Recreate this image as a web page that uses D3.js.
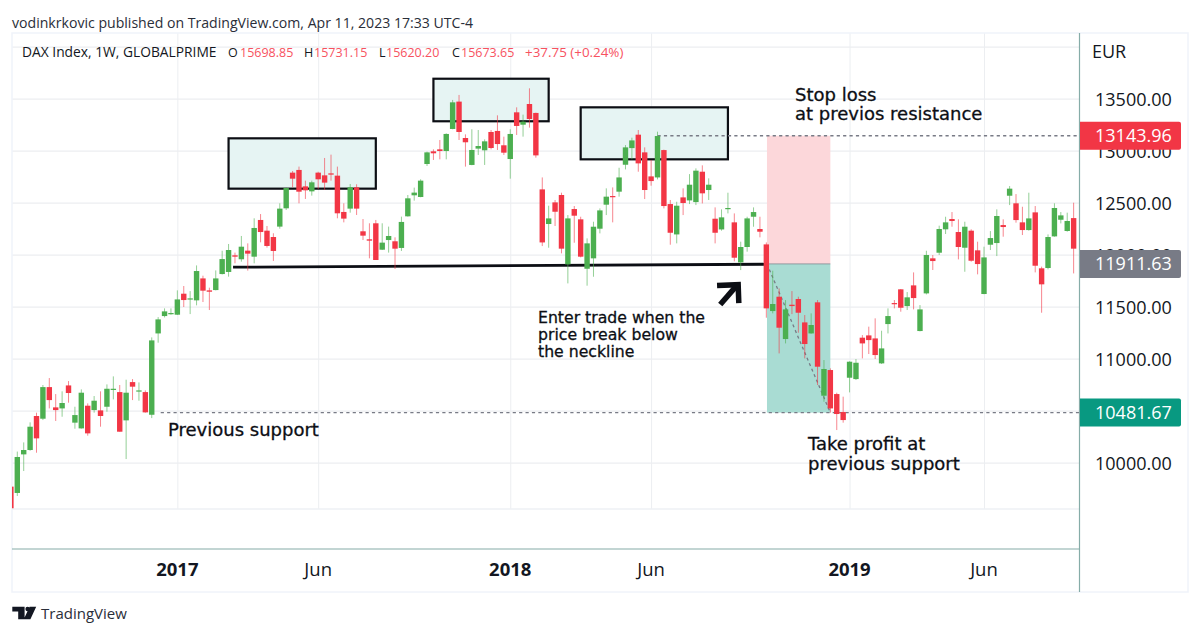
<!DOCTYPE html>
<html>
<head>
<meta charset="utf-8">
<script src="https://cdn.jsdelivr.net/npm/d3@7"></script>
<style>
  html, body { margin: 0; padding: 0; background: #fff; }
  text { font-family: "Open Sans", sans-serif; }
  .note { font-family: "DejaVu Sans", sans-serif; font-size: 18px; fill: #0c0e14; stroke: #0c0e14; stroke-width: 0.3px; }
</style>
</head>
<body>
<div id="chart"></div>
<script>
const WIDTH = 1200;
const HEIGHT = 635;

const GREEN = "#4caf50";
const RED = "#f23645";
const TEAL = "#089981";
const GREY = "#787b86";
const GRID = "#eceef1";
const AXIS = "#86aca8";

// weekly candles, [open, high, low, close], first one is cut off by the left edge
const candles = [
  [9770,9790,9560,9562],[9709,10107,9680,10055],[10080,10195,9920,10122],[10122,10388,10115,10346],
  [10449,10481,10096,10234],[10423,10747,10410,10727],[10727,10814,10522,10602],[10532,10660,10401,10506],
  [10522,10686,10442,10574],[10743,10785,10577,10670],[10385,10538,10327,10458],[10330,10705,10327,10673],
  [10548,10570,10260,10282],[10506,10641,10481,10596],[10503,10686,10346,10449],[10538,10753,10490,10711],
  [10702,10830,10609,10711],[10679,10747,10298,10298],[10407,10798,10035,10673],[10775,10804,10602,10731],
  [10686,10772,10596,10695],[10679,10695,10481,10484],[10461,11205,10429,11176],[11243,11400,11154,11378],
  [11410,11484,11397,11455],[11429,11484,11423,11439],[11423,11657,11420,11570],[11625,11699,11497,11564],
  [11570,11650,11429,11580],[11561,11897,11513,11843],[11772,11798,11545,11654],[11657,11683,11468,11644],
  [11660,11849,11657,11772],[11814,12038,11810,11958],[11834,12103,11789,12045],[11994,12020,11917,11981],
  [11956,12180,11933,12077],[12039,12109,11847,12010],[11981,12350,11917,12257],[12334,12391,12119,12218],
  [12231,12276,12068,12084],[12170,12206,11940,12036],[12270,12494,12250,12443],[12446,12648,12430,12641],
  [12789,12805,12648,12731],[12815,12847,12494,12606],[12657,12712,12536,12619],[12609,12712,12568,12696],
  [12789,12798,12632,12725],[12763,12930,12622,12693],[12782,12962,12712,12770],[12760,12847,12350,12398],
  [12411,12494,12311,12347],[12443,12680,12404,12648],[12648,12677,12382,12443],[12225,12343,12141,12183],
  [12148,12302,11965,12135],[12302,12334,11949,11949],[12048,12302,12045,12116],[12141,12270,12020,12180],
  [12129,12167,11863,12058],[12065,12366,12036,12315],[12369,12574,12366,12542],[12571,12645,12520,12597],
  [12555,12725,12552,12712],[12872,12991,12853,12984],[12994,13013,12911,12975],[13013,13103,12917,12997],
  [12997,13167,12917,13161],[13209,13488,13206,13465],[13472,13536,13103,13180],[13122,13157,12847,13081],
  [12863,13206,12860,13007],[13020,13199,12959,13045],[13004,13109,12863,13090],[13180,13199,13013,13026],
  [13190,13340,13007,13064],[13052,13135,12959,12981],[12920,13206,12731,13161],[13369,13417,13151,13238],
  [13250,13347,13135,13279],[13449,13600,13222,13305],[13363,13366,12933,12955],[12628,12743,12083,12118],
  [12295,12471,12067,12349],[12503,12526,12276,12413],[12574,12596,12013,12058],[11907,12381,11724,12349],
  [12439,12468,12115,12375],[12340,12365,11974,11981],[11865,12157,11702,12109],[11965,12317,11788,12269],
  [12250,12445,12205,12426],[12481,12638,12381,12558],[12564,12647,12311,12554],[12606,12836,12558,12743],
  [12865,13054,12820,13032],[13025,13125,12917,13099],[13154,13199,12798,12878],[12984,13032,12535,12622],
  [12753,12910,12663,12708],[12743,13183,12724,13141],[13006,13010,12445,12468],[12487,12526,12096,12211],
  [12195,12509,12109,12471],[12551,12638,12381,12497],[12522,12775,12487,12673],[12506,12830,12477,12808],
  [12798,12859,12493,12590],[12622,12734,12526,12673],[12346,12455,12109,12211],[12243,12436,12231,12359],
  [12439,12596,12397,12449],[12311,12397,11936,11971],[11926,12125,11852,12074],[12074,12365,12029,12349],
  [12365,12455,12269,12410],[12247,12365,12167,12221],[12099,12118,11394,11484],[11458,11846,11436,11526],
  [11596,11676,11051,11298],[11189,11564,11147,11474],[11519,11650,11429,11506],[11574,11596,11250,11442],
  [11349,11420,11003,11141],[11243,11436,11240,11324],[11542,11564,10747,10923],[10644,10987,10586,10901],
  [10891,10907,10481,10522],[10660,10673,10314,10468],[10487,10635,10385,10410],[10817,10975,10676,10971],
  [10804,10997,10795,10961],[11202,11227,11003,11147],[11224,11308,11045,11179],[11195,11388,10997,11035],
  [10955,11269,10949,11099],[11333,11484,11243,11410],[11535,11564,11484,11526],[11667,11670,11452,11490],
  [11506,11641,11468,11590],[11705,11830,11474,11583],[11266,11516,11263,11474],[11628,12038,11618,11997],
  [11965,11997,11853,11939],[12019,12279,11997,12247],[12244,12365,12199,12311],[12343,12410,12269,12324],
  [12218,12340,11955,12074],[12067,12317,11836,12269],[12231,12244,11933,11942],[12042,12125,11811,11910],
  [11622,12077,11620,11974],[12096,12227,12045,12160],[12112,12436,11987,12372],[12285,12340,12173,12266],
  [12567,12660,12477,12635],[12494,12583,12308,12333],[12311,12461,12189,12237],[12237,12596,12231,12349],
  [12407,12468,11830,11894],[11869,11885,11442,11715],[11872,12195,11859,12170],[12176,12494,12173,12449],
  [12336,12410,12301,12378],[12228,12404,12221,12324],[12352,12500,11820,12058],
];

const timeTicks = [
  { i: 25, label: "2017", year: true },
  { i: 47, label: "Jun" },
  { i: 77, label: "2018", year: true },
  { i: 99, label: "Jun" },
  { i: 130, label: "2019", year: true },
  { i: 151, label: "Jun" },
];

// drawings on the chart, x is the candle number and y the price
const boxes = [
  { i0: 33, i1: 56, top: 13119, bottom: 12635 },
  { i0: 65, i1: 83, top: 13692, bottom: 13283 },
  { i0: 88, i1: 111, top: 13417, bottom: 12917 },
];
const STOP = 13143.96, ENTRY = 11911.63, TARGET = 10481.67;
const ZONE = { i0: 117.1, i1: 127 };
const neckline = [[33.7, 11880], [116.7, 11908]];
const arrow = [[[109.8, 11521], [112.5, 11712]], [[109.3, 11704], [112.6, 11712], [112.7, 11535]]];

const notes = [
  { x: 795, y: 100.5, t: "Stop loss" },
  { x: 795, y: 119.5, t: "at previos resistance" },
  { x: 168, y: 436, t: "Previous support" },
  { x: 538, y: 323, t: "Enter trade when the", size: 15.7 },
  { x: 538, y: 340, t: "price break below", size: 15.7 },
  { x: 538, y: 357, t: "the neckline", size: 15.7 },
  { x: 808, y: 450, t: "Take profit at" },
  { x: 808, y: 470, t: "previous support" },
];

const PLOT = { left: 12, right: 1080, top: 33, pane: 509, bottom: 549 };

const x = d3.scaleLinear().domain([0, 166]).range([10.9, 10.9 + 6.402 * 166]);
const y = d3.scaleLinear().domain([10000, 14000]).range([462.7, 46.7]);
// candle numbers start after the cut off first candle
const xc = i => x(i + 1);

const svg = d3.select("#chart").append("svg")
  .attr("width", WIDTH)
  .attr("height", HEIGHT)
  .style("display", "block");

svg.append("defs").append("clipPath").attr("id", "plot")
  .append("rect")
  .attr("x", PLOT.left)
  .attr("y", PLOT.top)
  .attr("width", PLOT.right - PLOT.left)
  .attr("height", PLOT.pane - PLOT.top);

// grid comes from the axes
const xAxis = d3.axisBottom(x)
  .tickValues(timeTicks.map(d => d.i + 1))
  .tickSize(PLOT.pane - PLOT.top)
  .tickFormat("");
svg.append("g")
  .attr("transform", `translate(0,${PLOT.top})`)
  .call(xAxis)
  .call(g => g.select(".domain").remove())
  .call(g => g.selectAll("line").attr("stroke", GRID).attr("stroke-width", 1));

// 14000 has a grid line but no label, the 10500 label sits under the target tag
const yAxis = d3.axisRight(y)
  .tickValues(d3.range(10000, 14001, 500))
  .tickSize(PLOT.right - PLOT.left)
  .tickFormat(d => (d === 14000 || d === 10500) ? "" : d3.format(".2f")(d));
const yAxisG = svg.append("g")
  .attr("transform", `translate(${PLOT.left},0)`)
  .call(yAxis)
  .call(g => g.select(".domain").remove())
  .call(g => g.selectAll("line").attr("stroke", GRID).attr("stroke-width", 1.3));
yAxisG.selectAll("text")
  .attr("x", 1095 - PLOT.left)
  .attr("dy", "0.35em")
  .attr("fill", "#131722")
  .style("font-size", "18px");

// frame
svg.append("rect")
  .attr("x", PLOT.left).attr("y", PLOT.top)
  .attr("width", 1188 - PLOT.left).attr("height", 592 - PLOT.top)
  .attr("fill", "none").attr("stroke", "#f0f3fa").attr("stroke-width", 1.5);
svg.append("line")
  .attr("x1", PLOT.left).attr("x2", PLOT.right)
  .attr("y1", PLOT.pane).attr("y2", PLOT.pane)
  .attr("stroke", "#eef0f4").attr("stroke-width", 1.5);

const plot = svg.append("g").attr("clip-path", "url(#plot)");

// position tool
plot.append("rect")
  .attr("x", xc(ZONE.i0)).attr("width", xc(ZONE.i1) - xc(ZONE.i0))
  .attr("y", y(STOP)).attr("height", y(ENTRY) - y(STOP))
  .attr("fill", "#fcd7da");
plot.append("rect")
  .attr("x", xc(ZONE.i0)).attr("width", xc(ZONE.i1) - xc(ZONE.i0))
  .attr("y", y(ENTRY)).attr("height", y(TARGET) - y(ENTRY))
  .attr("fill", "#a9dcd3");
plot.append("line")
  .attr("x1", xc(ZONE.i0)).attr("x2", xc(ZONE.i1))
  .attr("y1", y(ENTRY)).attr("y2", y(ENTRY))
  .attr("stroke", GREY).attr("stroke-opacity", 0.7);
plot.append("line")
  .attr("x1", xc(ZONE.i0)).attr("x2", xc(ZONE.i1))
  .attr("y1", y(ENTRY)).attr("y2", y(TARGET))
  .attr("stroke", GREY).attr("stroke-width", 1.3).attr("stroke-dasharray", "3 3");

plot.selectAll(".box")
  .data(boxes)
  .enter()
  .append("rect")
  .attr("class", "box")
  .attr("x", d => xc(d.i0))
  .attr("y", d => y(d.top))
  .attr("width", d => xc(d.i1) - xc(d.i0))
  .attr("height", d => y(d.bottom) - y(d.top))
  .attr("fill", "#e6f4f3")
  .attr("stroke", "#0c0e14")
  .attr("stroke-width", 2.2);

// dashed stop and target levels
[{ i: 100, p: STOP }, { i: 22.4, p: TARGET }].forEach(d => {
  plot.append("line")
    .attr("x1", xc(d.i)).attr("x2", PLOT.right)
    .attr("y1", y(d.p)).attr("y2", y(d.p))
    .attr("stroke", GREY).attr("stroke-width", 1.4).attr("stroke-dasharray", "3.2 3.2");
});

const line = d3.line().x(d => xc(d[0])).y(d => y(d[1]));
plot.append("path")
  .attr("d", line(neckline))
  .attr("fill", "none")
  .attr("stroke", "#0c0e14")
  .attr("stroke-width", 2.8);

// candles
const candle = plot.selectAll(".candle")
  .data(candles)
  .enter()
  .append("g")
  .attr("class", "candle");
candle.append("line")
  .attr("x1", (d, i) => x(i)).attr("x2", (d, i) => x(i))
  .attr("y1", d => y(d[1])).attr("y2", d => y(d[2]))
  .attr("stroke", d => d[3] >= d[0] ? GREEN : RED)
  .attr("stroke-opacity", 0.6)
  .attr("stroke-width", 1);
candle.append("rect")
  .attr("x", (d, i) => x(i) - 2.7)
  .attr("width", 5.4)
  .attr("y", d => y(Math.max(d[0], d[3])))
  .attr("height", d => Math.max(1.2, Math.abs(y(d[0]) - y(d[3]))))
  .attr("fill", d => d[3] >= d[0] ? GREEN : RED);

// the arrow sits over the candles
arrow.forEach(seg => {
  plot.append("path")
    .attr("d", line(seg))
    .attr("fill", "none")
    .attr("stroke", "#0c0e14")
    .attr("stroke-width", 5.5)
    .attr("stroke-linejoin", "miter");
});

svg.selectAll(".note")
  .data(notes)
  .enter()
  .append("text")
  .attr("class", "note")
  .attr("x", d => d.x)
  .attr("y", d => d.y)
  .style("font-size", d => d.size ? `${d.size}px` : null)
  .text(d => d.t);

// axis borders
svg.append("line")
  .attr("x1", PLOT.left).attr("x2", PLOT.right)
  .attr("y1", PLOT.bottom).attr("y2", PLOT.bottom)
  .attr("stroke", AXIS).attr("stroke-width", 1.2);
svg.append("line")
  .attr("x1", PLOT.right - 0.5).attr("x2", PLOT.right - 0.5)
  .attr("y1", PLOT.top).attr("y2", 592)
  .attr("stroke", AXIS).attr("stroke-width", 1.2);

// time labels
svg.selectAll(".time")
  .data(timeTicks)
  .enter()
  .append("text")
  .attr("class", "time")
  .attr("x", d => xc(d.i))
  .attr("y", 576)
  .attr("text-anchor", "middle")
  .attr("font-size", 18.5)
  .attr("font-weight", d => d.year ? 700 : 400)
  .attr("fill", "#131722")
  .text(d => d.label);

svg.append("text")
  .attr("x", 1092).attr("y", 58)
  .attr("font-size", 18)
  .attr("fill", "#131722")
  .text("EUR");

// price tags
const tags = [
  { p: STOP, c: RED },
  { p: ENTRY, c: GREY },
  { p: TARGET, c: TEAL },
];
const tag = svg.selectAll(".tag").data(tags).enter().append("g").attr("class", "tag");
tag.append("path")
  .attr("d", d => {
    const t = y(d.p) - 14, b = y(d.p) + 14;
    return `M1080,${t}H1179a2,2 0 0 1 2,2V${b - 2}a2,2 0 0 1 -2,2H1080Z`;
  })
  .attr("fill", d => d.c);
tag.append("text")
  .attr("x", 1095)
  .attr("y", d => y(d.p))
  .attr("dy", "0.36em")
  .attr("font-size", 18)
  .attr("fill", "#fff")
  .text(d => d3.format(".2f")(d.p));

// header
svg.append("text")
  .attr("x", 12).attr("y", 28)
  .attr("font-size", 14.1)
  .attr("fill", "#2a2e39")
  .text("vodinkrkovic published on TradingView.com, Apr 11, 2023 17:33 UTC-4");

const legend = [
  { x: 22, t: "DAX Index, 1W, GLOBALPRIME", c: "#131722", s: 13.8 },
  { x: 228, t: "O", c: "#131722" }, { x: 240, t: "15698.85", c: "#f7525f" },
  { x: 304, t: "H", c: "#131722" }, { x: 314, t: "15731.15", c: "#f7525f" },
  { x: 379, t: "L", c: "#131722" }, { x: 386, t: "15620.20", c: "#f7525f" },
  { x: 452, t: "C", c: "#131722" }, { x: 461, t: "15673.65", c: "#f7525f" },
  { x: 525, t: "+37.75 (+0.24%)", c: "#f7525f", s: 13.4 },
];
svg.selectAll(".legend")
  .data(legend)
  .enter()
  .append("text")
  .attr("class", "legend")
  .attr("x", d => d.x)
  .attr("y", 57)
  .attr("font-size", d => d.s || 12.5)
  .attr("fill", d => d.c)
  .text(d => d.t);

// logo
svg.append("path")
  .attr("d", "M12.3,606.7H24.6V619.3H18.2V611.4H12.3Z M36.2,606.7L30.4,619.3H23.8L29.6,606.7Z")
  .attr("fill", "#131722");
svg.append("circle").attr("cx", 27.6).attr("cy", 609).attr("r", 2.2).attr("fill", "#131722");
svg.append("text")
  .attr("x", 41).attr("y", 619)
  .attr("font-size", 15)
  .attr("fill", "#2a2e39")
  .text("TradingView");
</script>
</body>
</html>
